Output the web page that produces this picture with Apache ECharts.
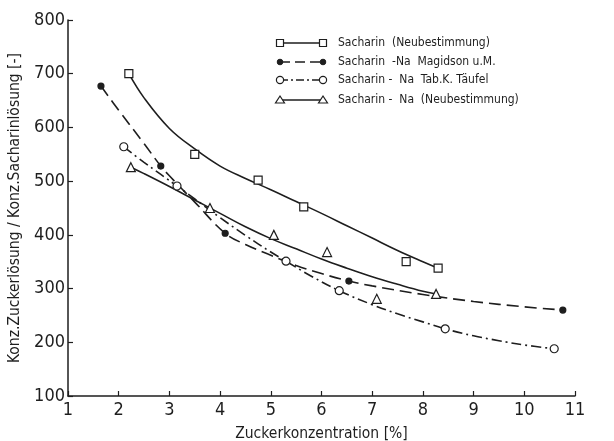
<!DOCTYPE html>
<html>
<head>
<meta charset="utf-8">
<script src="https://cdn.jsdelivr.net/npm/echarts@6/dist/echarts.min.js"></script>
<style>html,body{margin:0;padding:0;background:#fff}#c{width:614px;height:441px}</style>
</head>
<body>
<div id="c"></div>
<script>
// Series names
const seriesNames = [
  'Sacharin  (Neubestimmung)',
  'Sacharin  -Na  Magidson u.M.',
  'Sacharin -  Na  Tab.K. Täufel',
  'Sacharin -  Na  (Neubestimmung)'
];
// Sacharin (Neubestimmung) – measured points (squares)
const sqX = [2.2, 3.5, 4.75, 5.65, 7.67, 8.3];
const sqY = [700, 550, 502, 452, 350, 338];
// drawn curve through the squares
const sqFitX = [2.2, 2.5, 3, 3.5, 4, 4.5, 5, 5.5, 6, 6.5, 7, 7.5, 8, 8.3];
const sqFitY = [700, 655, 598, 560, 528, 505, 484, 462, 440, 417, 394, 371, 350, 338];
// Sacharin-Na Magidson (filled circles, dashed)
const magX = [1.65, 2.83, 4.1, 6.54, 10.76];
const magY = [677, 528, 403, 314, 260];
const magFitX = [1.65, 2, 2.5, 2.83, 3, 3.5, 4.1, 4.5, 5, 5.5, 6, 6.54, 7, 8, 9, 10, 10.76];
const magFitY = [677, 632, 570, 528, 510, 461, 403, 382, 362, 343, 328, 314, 305, 289, 276, 266, 260];
// Sacharin-Na Täufel (open circles, dash-dot)
const taeX = [2.1, 3.15, 5.3, 6.35, 8.44, 10.59];
const taeY = [564, 491, 351, 296, 225, 188];
const taeFitX = [2.1, 2.5, 3.15, 3.5, 4, 4.5, 5, 5.3, 5.8, 6.35, 7, 7.5, 8, 8.44, 9, 9.5, 10, 10.59];
const taeFitY = [564, 535, 491, 467, 432, 399, 368, 351, 323, 296, 270, 253, 238, 225, 212, 203, 195, 188];
// Sacharin-Na (Neubestimmung) (triangles)
const triX = [2.24, 3.8, 5.06, 6.11, 7.09, 8.26];
const triY = [526, 450, 400, 368, 281, 290];
const triFitX = [2.24, 2.5, 3, 3.5, 4, 4.5, 5, 5.5, 6, 6.5, 7, 7.5, 8, 8.26];
const triFitY = [526, 514, 490, 465, 440, 415, 393, 374, 355, 338, 322, 308, 295, 290];

const pairs = (xs, ys) => xs.map((x, i) => [x, ys[i]]);
const INK = '#1e1e1e';
const FONT = "'Liberation Sans Narrow', 'DejaVu Sans Condensed', 'Arial Narrow', sans-serif";

const chart = echarts.init(document.getElementById('c'), null, {renderer: 'canvas'});

function lineSeries(name, data, dash) {
  return {
    name: name, type: 'line', data: data, smooth: 0.4, showSymbol: false, symbol: 'none',
    silent: true, z: 2,
    lineStyle: {color: INK, width: 1.6, type: dash}
  };
}
function scatterSeries(name, data, symbol, size, filled) {
  return {
    name: name, type: 'scatter', data: data, symbol: symbol, symbolSize: size, z: 3,
    itemStyle: {color: filled ? INK : '#fff', borderColor: INK, borderWidth: 1.2, opacity: 1}
  };
}

// legend drawn as graphic elements
const legendRows = [43, 62, 80, 100];
const lx1 = 280, lx2 = 323, ltext = 338;
const legendDash = ['solid', [10, 5], [8, 3, 2, 3], 'solid'];
const graphics = [];
function legendSymbol(kind, cx, cy) {
  if (kind === 0) return {type: 'rect', shape: {x: cx - 3.5, y: cy - 3.5, width: 7, height: 7}, style: {fill: '#fff', stroke: INK, lineWidth: 1.2}, z: 10};
  if (kind === 1) return {type: 'circle', shape: {cx: cx, cy: cy, r: 2.8}, style: {fill: INK, stroke: INK, lineWidth: 1}, z: 10};
  if (kind === 2) return {type: 'circle', shape: {cx: cx, cy: cy, r: 3.6}, style: {fill: '#fff', stroke: INK, lineWidth: 1.2}, z: 10};
  return {type: 'polygon', shape: {points: [[cx, cy - 4], [cx + 4.5, cy + 3], [cx - 4.5, cy + 3]]}, style: {fill: '#fff', stroke: INK, lineWidth: 1.2}, z: 10};
}
seriesNames.forEach((n, i) => {
  const y = legendRows[i];
  const dash = legendDash[i];
  graphics.push({type: 'line', shape: {x1: lx1, y1: y, x2: lx2, y2: y},
    style: {stroke: INK, lineWidth: 1.6, lineDash: dash === 'solid' ? null : dash}, z: 9});
  graphics.push(legendSymbol(i, lx1, y));
  graphics.push(legendSymbol(i, lx2, y));
  graphics.push({type: 'text', x: ltext, y: y, z: 10,
    style: {text: n, fill: INK, font: '12px ' + FONT, textVerticalAlign: 'middle', verticalAlign: 'middle'}});
});

chart.setOption({
  animation: false,
  backgroundColor: '#fff',
  grid: {left: 68, right: 39, top: 20, bottom: 45, containLabel: false, outerBoundsMode: 'none'},
  graphic: graphics,
  xAxis: {
    type: 'value', min: 1, max: 11, interval: 1,
    name: 'Zuckerkonzentration [%]', nameLocation: 'middle', nameGap: 30,
    nameTextStyle: {fontFamily: FONT, fontSize: 15.5, color: INK},
    axisLine: {lineStyle: {color: INK, width: 1.5}},
    axisTick: {inside: true, length: 5, lineStyle: {color: INK, width: 1.2}},
    axisLabel: {fontFamily: FONT, fontSize: 18, color: INK, margin: 5},
    splitLine: {show: false}
  },
  yAxis: {
    type: 'value', min: 100, max: 800, interval: 100,
    name: 'Konz.Zuckerlösung / Konz.Sacharinlösung [-]', nameLocation: 'middle', nameGap: 31,
    nameTextStyle: {fontFamily: FONT, fontSize: 15.5, color: INK},
    axisLine: {lineStyle: {color: INK, width: 1.5}},
    axisTick: {inside: true, length: 5, lineStyle: {color: INK, width: 1.2}},
    axisLabel: {fontFamily: FONT, fontSize: 18, color: INK, margin: 3},
    splitLine: {show: false}
  },
  series: [
    lineSeries(seriesNames[0], pairs(sqFitX, sqFitY), 'solid'),
    scatterSeries(seriesNames[0], pairs(sqX, sqY), 'rect', 8, false),
    lineSeries(seriesNames[1], pairs(magFitX, magFitY), [12, 6]),
    scatterSeries(seriesNames[1], pairs(magX, magY), 'circle', 6, true),
    lineSeries(seriesNames[2], pairs(taeFitX, taeFitY), [10, 4, 2, 4]),
    scatterSeries(seriesNames[2], pairs(taeX, taeY), 'circle', 8, false),
    lineSeries(seriesNames[3], pairs(triFitX, triFitY), 'solid'),
    scatterSeries(seriesNames[3], pairs(triX, triY), 'triangle', 9, false)
  ]
});
</script>
</body>
</html>
